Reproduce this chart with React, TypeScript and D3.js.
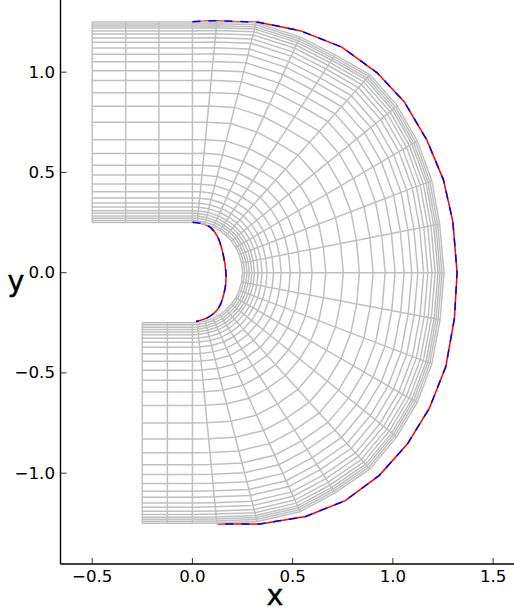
import React from "react";
import * as d3 from "d3";

const WIDTH = 514;
const HEIGHT = 612;

const xTicks = [-0.5, 0, 0.5, 1, 1.5];
const yTicks = [-1, -0.5, 0, 0.5, 1];

// Normalised wall-normal positions of the mesh's wrap lines
const levels = [0, 0.01, 0.022, 0.033, 0.046, 0.059, 0.077, 0.097, 0.122, 0.154, 0.192, 0.237, 0.286, 0.345, 0.413, 0.5, 0.58, 0.648, 0.708, 0.757, 0.802, 0.84, 0.87, 0.899, 0.92, 0.94, 0.956, 0.97, 0.98, 0.99, 1];

// Mesh stations, inner and outer ends, upper branch first, going along the wall
const meshInner: [number, number][] = [
  [-0.5, 0.25], [-0.333, 0.25], [-0.167, 0.25], [0, 0.25], [0.024, 0.249], [0.062, 0.242], [0.104, 0.227], [0.137, 0.209], [0.167, 0.186], [0.194, 0.158], [0.216, 0.126], [0.233, 0.09], [0.245, 0.048], [0.25, 0],
  [0.245, -0.047], [0.233, -0.088], [0.216, -0.125], [0.194, -0.157], [0.167, -0.185], [0.136, -0.21], [0.103, -0.228], [0.063, -0.241], [0.024, -0.249], [0, -0.25], [-0.125, -0.25], [-0.25, -0.25],
];
const meshOuter: [number, number][] = [
  [-0.5, 1.25], [-0.333, 1.25], [-0.167, 1.25], [0, 1.25], [0.122, 1.252], [0.318, 1.246], [0.537, 1.176], [0.712, 1.086], [0.886, 0.987], [1.022, 0.832], [1.122, 0.657], [1.194, 0.459], [1.233, 0.243], [1.255, 0],
  [1.235, -0.235], [1.194, -0.455], [1.121, -0.648], [1.019, -0.819], [0.886, -0.979], [0.712, -1.098], [0.537, -1.192], [0.323, -1.241], [0.122, -1.248], [0, -1.25], [-0.125, -1.25], [-0.25, -1.25],
];

const outerBoundary: [number, number][] = [
  [0, 1.252], [0.103, 1.257], [0.329, 1.249], [0.537, 1.207], [0.745, 1.125], [0.92, 0.998], [1.056, 0.853], [1.169, 0.662], [1.252, 0.463], [1.299, 0.255], [1.32, 0], [1.307, -0.227], [1.264, -0.468], [1.182, -0.676], [1.072, -0.855], [0.931, -1.012], [0.762, -1.137], [0.565, -1.216], [0.338, -1.253], [0.125, -1.254],
];
const innerBoundary: [number, number][] = [
  [0, 0.252], [0.047, 0.245], [0.088, 0.227], [0.125, 0.18], [0.15, 0.105], [0.167, -0.002], [0.163, -0.077], [0.13, -0.177], [0.08, -0.222], [0.018, -0.244],
];

const x = d3.scaleLinear().domain([-0.658, 1.604]).range([60.5, 514]);
const y = d3.scaleLinear().domain([1.36, -1.453]).range([0, 564]);
const line = d3.line<[number, number]>().x((d) => x(d[0])).y((d) => y(d[1]));
const smoothLine = d3.line<[number, number]>().x((d) => x(d[0])).y((d) => y(d[1])).curve(d3.curveCatmullRom);

const fmt = (v: number) => v.toFixed(1).replace("-", "\u2212");
const meshColor = "#c0c0c0";
const font = "'DejaVu Sans', sans-serif";

const station = (i: number, eta: number): [number, number] => [
  meshInner[i][0] + eta * (meshOuter[i][0] - meshInner[i][0]),
  meshInner[i][1] + eta * (meshOuter[i][1] - meshInner[i][1]),
];
const wrapLines = levels.map((eta) => meshInner.map((_, i) => station(i, eta)));
const radialLines = meshInner.map((p, i) => [p, meshOuter[i]]);
const boundaryPaths = [line(outerBoundary) ?? "", smoothLine(innerBoundary) ?? ""];

export default function App() {
  const left = x.range()[0];
  const bottom = y.range()[1];
  return (
    <svg width={WIDTH} height={HEIGHT} style={{ position: "fixed", left: 0, top: 0, background: "#fff" }}>
      {boundaryPaths.map((d, i) => (
        <path key={i} d={d} fill="none" stroke="#ff0000" strokeWidth={1.5} />
      ))}
      <g fill="none" stroke={meshColor} strokeWidth={1.5}>
        {wrapLines.map((l, i) => <path key={i} d={line(l) ?? ""} />)}
        {radialLines.map((l, i) => <path key={i} d={line(l) ?? ""} />)}
      </g>
      {boundaryPaths.map((d, i) => (
        <path key={i} d={d} fill="none" stroke="#0000ff" strokeWidth={1.5} strokeDasharray="8 8" />
      ))}
      <g stroke="#000" strokeWidth={0.8}>
        {xTicks.map((t) => <line key={t} x1={x(t)} x2={x(t)} y1={bottom} y2={bottom - 6} />)}
        {yTicks.map((t) => <line key={t} x1={left} x2={left + 6} y1={y(t)} y2={y(t)} />)}
      </g>
      <g stroke="#000" strokeWidth={1.4}>
        <line x1={left} x2={left} y1={0} y2={bottom} />
        <line x1={left} x2={WIDTH} y1={bottom} y2={bottom} />
      </g>
      <g fontFamily={font} fontSize={16.67} fill="#000">
        {xTicks.map((t) => <text key={t} x={x(t)} y={582} textAnchor="middle">{fmt(t)}</text>)}
        {yTicks.map((t) => <text key={t} x={55} y={y(t) + 5.5} textAnchor="end">{fmt(t)}</text>)}
      </g>
      <text x={275} y={605} fontFamily={font} fontSize={28.5} stroke="#000" strokeWidth={0.4} textAnchor="middle">x</text>
      <text x={16} y={291} fontFamily={font} fontSize={28.5} stroke="#000" strokeWidth={0.4} textAnchor="middle">y</text>
    </svg>
  );
}
